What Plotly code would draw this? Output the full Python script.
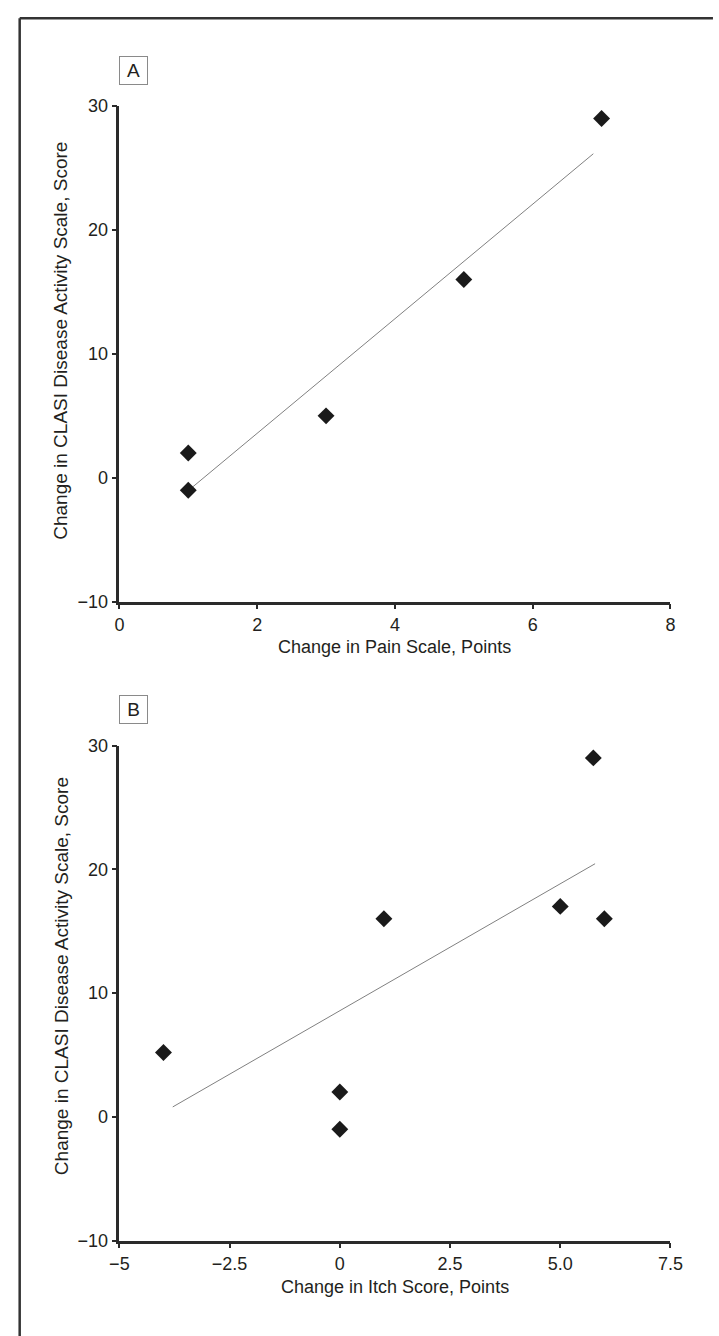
import plotly.graph_objects as go

# ---- data ----
pain_change = [1, 1, 3, 5, 7]
clasi_change_a = [2, -1, 5, 16, 29]
fit_a_x = [1.04, 6.88]
fit_a_y = [-0.85, 26.15]

itch_change = [-4, 0, 0, 1, 5, 5.75, 6]
clasi_change_b = [5.2, 2, -1, 16, 17, 29, 16]
fit_b_x = [-3.79, 5.79]
fit_b_y = [0.8, 20.45]

a_xticks = [0, 2, 4, 6, 8]
a_xticktext = ["0", "2", "4", "6", "8"]
b_xticks = [-5, -2.5, 0, 2.5, 5, 7.5]
b_xticktext = ["\u22125", "\u22122.5", "0", "2.5", "5.0", "7.5"]
yticks = [-10, 0, 10, 20, 30]
yticktext = ["\u221210", "0", "10", "20", "30"]

x_title_a = "Change in Pain Scale, Points"
x_title_b = "Change in Itch Score, Points"
y_title = "Change in CLASI Disease Activity Scale, Score"

# ---- layout geometry (reference pixel grid 719 x 1336) ----
W, H = 719, 1336
FONT = "Liberation Sans, Arial, Helvetica, sans-serif"
INK = "#231f20"
AX = "#2a2a2a"

def px(x):
    return x / W

def py(y):
    return 1 - y / H

x_dom = [px(113), px(682.3)]
ya_dom = [py(600.7), py(97.5)]
yb_dom = [py(1249.3), py(746.7)]

fig = go.Figure()

marker = dict(symbol="diamond", size=13, color="#1a1a1a", line=dict(width=0))

fig.add_trace(go.Scatter(x=fit_a_x, y=fit_a_y, mode="lines",
                         line=dict(color="#808080", width=1),
                         xaxis="x", yaxis="y", showlegend=False, hoverinfo="skip"))
fig.add_trace(go.Scatter(x=pain_change, y=clasi_change_a, mode="markers",
                         marker=marker, xaxis="x", yaxis="y", showlegend=False,
                         cliponaxis=False))
fig.add_trace(go.Scatter(x=fit_b_x, y=fit_b_y, mode="lines",
                         line=dict(color="#808080", width=1),
                         xaxis="x2", yaxis="y2", showlegend=False, hoverinfo="skip"))
fig.add_trace(go.Scatter(x=itch_change, y=clasi_change_b, mode="markers",
                         marker=marker, xaxis="x2", yaxis="y2", showlegend=False,
                         cliponaxis=False))

axis_common = dict(showline=True, linewidth=2.5, linecolor=AX, showgrid=False,
                   zeroline=False, ticks="outside", ticklen=5, tickwidth=2,
                   tickcolor=AX, tickfont=dict(family=FONT, size=18, color=INK),
                   fixedrange=True)

fig.update_layout(
    width=W, height=H,
    margin=dict(l=0, r=0, t=0, b=0, pad=0),
    paper_bgcolor="white", plot_bgcolor="white",
    font=dict(family=FONT, color=INK),
    xaxis=dict(domain=x_dom, range=[0, 8], tickmode="array", tickvals=a_xticks,
               ticktext=a_xticktext, anchor="y", **axis_common),
    yaxis=dict(domain=ya_dom, range=[-10, 30], tickmode="array", tickvals=yticks,
               ticktext=yticktext, anchor="x", **axis_common),
    xaxis2=dict(domain=x_dom, range=[-5, 7.5], tickmode="array", tickvals=b_xticks,
                ticktext=b_xticktext, anchor="y2", **axis_common),
    yaxis2=dict(domain=yb_dom, range=[-10, 30], tickmode="array", tickvals=yticks,
                ticktext=yticktext, anchor="x2", **axis_common),
)

title_font = dict(family=FONT, size=18, color=INK)
ytitle_font = dict(family=FONT, size=19, color=INK)
annotations = [
    dict(text=x_title_a, x=px(397.6), y=py(647), xref="paper", yref="paper",
         showarrow=False, font=title_font, xanchor="center", yanchor="middle"),
    dict(text=x_title_b, x=px(397.6), y=py(1296), xref="paper", yref="paper",
         showarrow=False, font=title_font, xanchor="center", yanchor="middle"),
    dict(text=y_title, x=px(52.5), y=py(336), xref="paper", yref="paper",
         showarrow=False, font=ytitle_font, textangle=-90,
         xanchor="center", yanchor="middle"),
    dict(text=y_title, x=px(52.5), y=py(981), xref="paper", yref="paper",
         showarrow=False, font=ytitle_font, textangle=-90,
         xanchor="center", yanchor="middle"),
    dict(text="A", x=px(127.5), y=py(61.5), xref="paper", yref="paper",
         showarrow=False, font=dict(family=FONT, size=19, color=INK),
         bordercolor="#8a8a8a", borderwidth=1, borderpad=0, width=27, height=27,
         bgcolor="white", xanchor="center", yanchor="middle"),
    dict(text="B", x=px(127.7), y=py(710), xref="paper", yref="paper",
         showarrow=False, font=dict(family=FONT, size=19, color=INK),
         bordercolor="#8a8a8a", borderwidth=1, borderpad=0, width=27, height=27,
         bgcolor="white", xanchor="center", yanchor="middle"),
]
fig.update_layout(annotations=annotations)

fig.update_layout(shapes=[
    dict(type="line", xref="paper", yref="paper", x0=px(10), x1=px(10),
         y0=-0.01, y1=py(8.5), line=dict(color="#333333", width=2.5)),
    dict(type="line", xref="paper", yref="paper", x0=px(10), x1=1.01,
         y0=py(8.5), y1=py(8.5), line=dict(color="#333333", width=2.5)),
])

post = (
    "document.documentElement.style.margin='0';"
    "document.body.style.margin='0';"
    "document.documentElement.style.overflow='hidden';"
    "document.body.style.overflow='hidden';"
)

fig.write_html("out.html", config=dict(displayModeBar=False), post_script=post)
